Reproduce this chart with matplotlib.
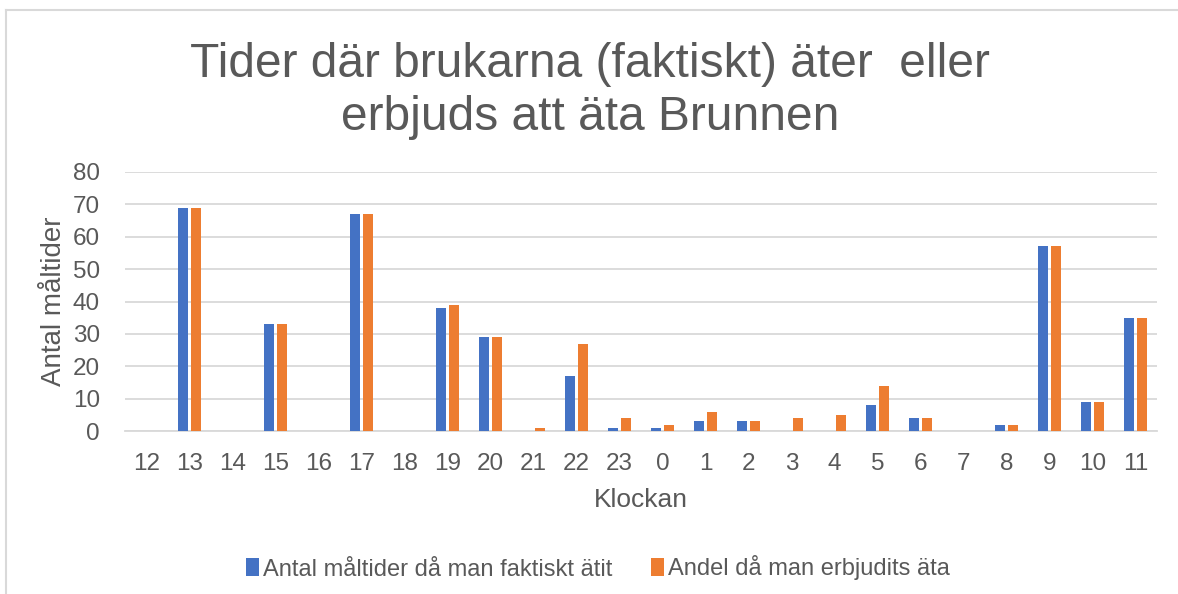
import numpy as np
import matplotlib.pyplot as plt
from matplotlib.lines import Line2D

# Data
hours = ['12', '13', '14', '15', '16', '17', '18', '19', '20', '21', '22', '23',
         '0', '1', '2', '3', '4', '5', '6', '7', '8', '9', '10', '11']
eaten = [0, 69, 0, 33, 0, 67, 0, 38, 29, 0, 17, 1,
         1, 3, 3, 0, 0, 8, 4, 0, 2, 57, 9, 35]
offered = [0, 69, 0, 33, 0, 67, 0, 39, 29, 1, 27, 4,
           2, 6, 3, 4, 5, 14, 4, 0, 2, 57, 9, 35]

W, H = 1178, 594
fig = plt.figure(figsize=(W / 100, H / 100), dpi=100)
plt.rcParams['font.family'] = ['Liberation Sans', 'DejaVu Sans']
grey = '#595959'

ax = fig.add_axes([125 / W, 1 - 431 / H, (1157 - 125) / W, (431 - 172) / H])
x = np.arange(len(hours))
bw = 0.24
ax.bar(x - 0.15, eaten, width=bw, color='#4472C4', label='Antal måltider då man faktiskt ätit', zorder=3)
ax.bar(x + 0.15, offered, width=bw, color='#ED7D31', label='Andel då man erbjudits äta', zorder=3)

ax.set_xlim(-0.5, len(hours) - 0.5)
ax.set_ylim(0, 80)
ax.set_yticks(range(0, 81, 10))
ax.set_xticks(x)
ax.set_xticklabels(hours)
ax.tick_params(axis='both', length=0, labelsize=17.5, labelcolor=grey)
ax.tick_params(axis='x', pad=16)
ax.tick_params(axis='y', pad=18)
ax.grid(axis='y', color='#D9D9D9', linewidth=1.3, zorder=0)
for s in ['top', 'right', 'left']:
    ax.spines[s].set_visible(False)
ax.spines['bottom'].set_color('#D9D9D9')
ax.spines['bottom'].set_linewidth(1.3)

ax.set_xlabel('Klockan', fontsize=19, color=grey, labelpad=9)
ax.set_ylabel('Antal måltider', fontsize=20, color=grey, labelpad=4)

fig.text(590 / W, 1 - 91 / H, 'Tider där brukarna (faktiskt) äter  eller\nerbjuds att äta Brunnen',
         ha='center', va='center', fontsize=34.5, color=grey, linespacing=1.22)

fig.legend(loc='center', bbox_to_anchor=(598 / W, 1 - 568 / H), ncol=2, frameon=False,
           fontsize=17, labelcolor=grey, handlelength=0.55, handleheight=0.8,
           handletextpad=0.2, columnspacing=1.6)

# outer chart border (left and top edges)
fig.add_artist(Line2D([6 / W, 6 / W], [0, 1 - 10 / H], transform=fig.transFigure,
                      color='#D9D9D9', linewidth=1.5))
fig.add_artist(Line2D([6 / W, 1], [1 - 10 / H, 1 - 10 / H], transform=fig.transFigure,
                      color='#D9D9D9', linewidth=1.5))

fig.savefig('out.png', dpi=100, facecolor='white')
